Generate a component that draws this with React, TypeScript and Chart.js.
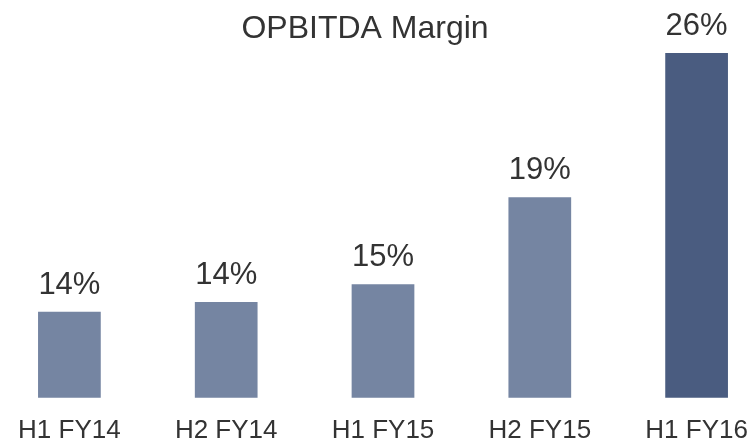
import React, { useEffect, useRef } from "react";
import { Chart, registerables } from "chart.js";

Chart.register(...registerables);

const categories = ["H1 FY14", "H2 FY14", "H1 FY15", "H2 FY15", "H1 FY16"];
const marginValues = [13.99, 14.45, 15.27, 19.3, 26.0];
const marginLabels = ["14%", "14%", "15%", "19%", "26%"];
const barColors = ["#7585A2", "#7585A2", "#7585A2", "#7585A2", "#4A5C80"];
const chartTitle = "OPBITDA Margin";

const FONT = "'Liberation Sans', Arial, sans-serif";
const TEXT = "#333333";

const overlayPlugin = {
  id: "overlay",
  afterDatasetsDraw(chart: any) {
    const ctx = chart.ctx;
    const meta = chart.getDatasetMeta(0);
    ctx.save();
    ctx.fillStyle = TEXT;
    ctx.textAlign = "center";
    ctx.textBaseline = "alphabetic";
    ctx.font = `31px ${FONT}`;
    meta.data.forEach((bar: any, i: number) => {
      ctx.fillText(marginLabels[i], bar.x, bar.y - 18);
    });
    ctx.font = `32px ${FONT}`;
    ctx.fillText(chartTitle, 374, 38);
    ctx.restore();
  },
};

export default function App() {
  const ref = useRef<HTMLCanvasElement>(null);
  useEffect(() => {
    if (!ref.current) return;
    const chart = new Chart(ref.current, {
      type: "bar",
      data: {
        labels: categories,
        datasets: [
          {
            data: marginValues,
            backgroundColor: barColors,
            borderWidth: 0,
            categoryPercentage: 1,
            barPercentage: 0.4,
          },
        ],
      },
      options: {
        animation: false,
        responsive: false,
        layout: { padding: { top: 40, left: 0, right: 0, bottom: 0 } },
        plugins: {
          legend: { display: false },
          tooltip: { enabled: false },
          title: { display: false },
        },
        scales: {
          x: {
            grid: { display: false, drawTicks: false },
            border: { display: false },
            ticks: {
              color: TEXT,
              font: { family: FONT, size: 26 },
              padding: 17,
              maxRotation: 0,
              autoSkip: false,
            },
          },
          y: {
            display: false,
            min: 10,
            max: 26.6,
          },
        },
      },
      plugins: [overlayPlugin],
    });
    return () => chart.destroy();
  }, []);
  return (
    <div
      style={{
        position: "fixed",
        left: 0,
        top: 0,
        width: 749,
        height: 438,
        overflow: "hidden",
        background: "#fff",
      }}
    >
      <canvas
        ref={ref}
        width={784}
        height={463}
        style={{ position: "absolute", left: -9, top: 0, width: 784, height: 463 }}
      />
    </div>
  );
}
